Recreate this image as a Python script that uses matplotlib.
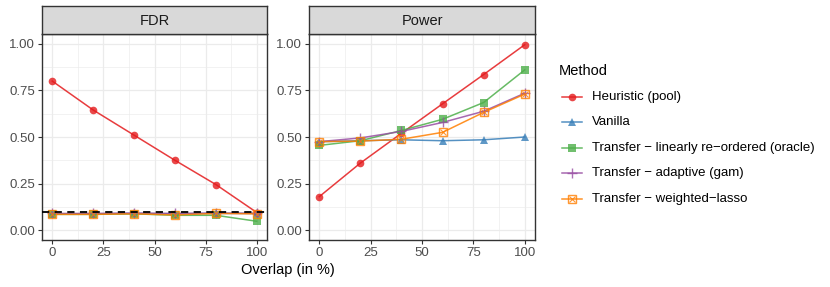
import matplotlib
matplotlib.use("Agg")
import matplotlib.pyplot as plt
from matplotlib.lines import Line2D

plt.rcParams['font.family'] = ['Liberation Sans', 'DejaVu Sans']

overlap = [0, 20, 40, 60, 80, 100]
methods = ["Heuristic (pool)", "Vanilla", "Transfer \u2212 linearly re\u2212ordered (oracle)",
           "Transfer \u2212 adaptive (gam)", "Transfer \u2212 weighted\u2212lasso"]
fdr = {
    methods[0]: [0.80, 0.645, 0.51, 0.375, 0.245, 0.095],
    methods[1]: [0.088, 0.088, 0.09, 0.088, 0.09, 0.09],
    methods[2]: [0.085, 0.085, 0.088, 0.08, 0.08, 0.048],
    methods[3]: [0.09, 0.09, 0.092, 0.09, 0.092, 0.09],
    methods[4]: [0.085, 0.085, 0.088, 0.082, 0.09, 0.088],
}
power = {
    methods[0]: [0.18, 0.36, 0.52, 0.678, 0.835, 0.995],
    methods[1]: [0.475, 0.48, 0.485, 0.48, 0.485, 0.50],
    methods[2]: [0.455, 0.48, 0.535, 0.595, 0.685, 0.86],
    methods[3]: [0.475, 0.495, 0.53, 0.578, 0.638, 0.735],
    methods[4]: [0.475, 0.478, 0.488, 0.525, 0.632, 0.73],
}
fdr_target = 0.1
colors = ["#E41A1C", "#377EB8", "#4DAF4A", "#984EA3", "#FF7F00"]
markers = ["o", "^", "s", "+", "boxtimes"]

W, H = 830, 287
fig = plt.figure(figsize=(W / 100, H / 100), dpi=100)


def px_axes(x0, y0, x1, y1):
    return fig.add_axes([x0 / W, 1 - y1 / H, (x1 - x0) / W, (y1 - y0) / H])


def marker_artists(x, y, i):
    c = colors[i]
    if i == 4:
        return [dict(x=x, y=y, linestyle='none', marker='s', markersize=5.5, markerfacecolor='none',
                     markeredgecolor=c, markeredgewidth=1.0, alpha=0.8),
                dict(x=x, y=y, linestyle='none', marker='x', markersize=4, color=c,
                     markeredgewidth=0.8, alpha=0.8)]
    if i == 3:
        return [dict(x=x, y=y, linestyle='none', marker='+', markersize=7, color=c,
                     markeredgewidth=1.0, alpha=0.8)]
    return [dict(x=x, y=y, linestyle='none', marker=markers[i], markersize=5.5, color=c,
                 markeredgewidth=0, alpha=0.8)]


def panel(x0, x1, data, title, hline=None):
    ax = px_axes(x0, 34, x1, 240)
    ax.set_xlim(-5, 105)
    ax.set_ylim(-0.0525, 1.0525)
    ax.set_xticks([0, 25, 50, 75, 100])
    ax.set_yticks([0, 0.25, 0.5, 0.75, 1.0])
    ax.set_yticklabels(["0.00", "0.25", "0.50", "0.75", "1.00"])
    ax.set_xticks([12.5, 37.5, 62.5, 87.5], minor=True)
    ax.set_yticks([0.125, 0.375, 0.625, 0.875], minor=True)
    ax.grid(which='major', color='#EBEBEB', linewidth=0.9)
    ax.grid(which='minor', color='#EBEBEB', linewidth=0.45)
    ax.set_axisbelow(True)
    ax.tick_params(which='minor', length=0)
    ax.tick_params(which='major', length=3, width=0.8, color='#333333',
                   labelsize=9.5, labelcolor='#4D4D4D', pad=2)
    for s in ax.spines.values():
        s.set_color('#333333')
        s.set_linewidth(1.0)
    for i, m in enumerate(methods):
        ax.plot(overlap, data[m], color=colors[i], linewidth=1.1, alpha=0.85, zorder=2)
        for kw in marker_artists(overlap, data[m], i):
            xs = kw.pop('x'); ys = kw.pop('y')
            ax.plot(xs, ys, zorder=3, **kw)
    if hline is not None:
        ax.axhline(hline, color='black', linestyle=(0, (4, 3)), linewidth=1.3, zorder=4)
    st = px_axes(x0, 6, x1, 34)
    st.set_xticks([]); st.set_yticks([])
    st.set_facecolor('#D9D9D9')
    for s in st.spines.values():
        s.set_color('#333333')
        s.set_linewidth(1.0)
    st.text(0.5, 0.47, title, ha='center', va='center', fontsize=10.5, color='#1A1A1A',
            transform=st.transAxes)
    return ax


panel(42, 267, fdr, "FDR", hline=fdr_target)
panel(309, 535, power, "Power")

fig.text(288 / W, 1 - 270 / H, "Overlap (in %)", ha='center', va='center', fontsize=10.5, color='black')

# legend
fig.text(559 / W, 1 - 71 / H, "Method", ha='left', va='center', fontsize=10.5, color='black')
ys = [97, 122, 148, 173, 199]
for i, (m, yy) in enumerate(zip(methods, ys)):
    yf = 1 - yy / H
    fig.add_artist(Line2D([562 / W, 582 / W], [yf, yf], color=colors[i], linewidth=1.1, alpha=0.85))
    xm = 572 / W
    for kw in marker_artists([xm], [yf], i):
        xs = kw.pop('x'); ys_ = kw.pop('y')
        fig.add_artist(Line2D(xs, ys_, **kw))
    fig.text(592 / W, yf, m, ha='left', va='center', fontsize=9.5, color='black')

fig.savefig("out.png", dpi=100)
